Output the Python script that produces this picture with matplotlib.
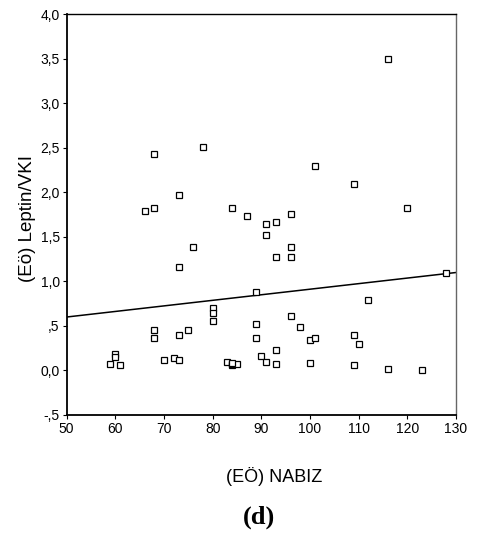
import matplotlib
matplotlib.use("Agg")
import matplotlib.pyplot as plt

# (EO) NABIZ vs (Eo) Leptin/VKI
nabiz = [116, 68, 78,
         101, 109, 73, 66, 68, 84, 87, 91, 93, 96, 91, 76, 96, 93, 96, 73, 128, 120,
         89, 112, 80, 80, 80, 96, 98, 89, 68, 68, 73, 75, 89, 100, 101, 109, 110,
         60, 60, 59, 61, 70, 72, 73, 83, 84, 84, 85, 84, 90, 91, 93, 93, 100, 109,
         116, 123]
leptin = [3.50, 2.43, 2.51,
          2.30, 2.10, 1.97, 1.79, 1.83, 1.83, 1.73, 1.65, 1.67, 1.76, 1.52, 1.39,
          1.39, 1.27, 1.27, 1.16, 1.09, 1.83,
          0.88, 0.79, 0.70, 0.65, 0.55, 0.61, 0.49, 0.52, 0.45, 0.36, 0.40, 0.45,
          0.36, 0.34, 0.36, 0.40, 0.30,
          0.18, 0.15, 0.07, 0.06, 0.12, 0.14, 0.12, 0.09, 0.06, 0.07, 0.07, 0.08,
          0.16, 0.10, 0.23, 0.07, 0.08, 0.06, 0.02, 0.01]

# fit line ends
fit_x = [50, 130]
fit_y = [0.60, 1.10]

xticks = [50, 60, 70, 80, 90, 100, 110, 120, 130]
yticks = [-0.5, 0.0, 0.5, 1.0, 1.5, 2.0, 2.5, 3.0, 3.5, 4.0]
ytick_labels = ["-,5", "0,0", ",5", "1,0", "1,5", "2,0", "2,5", "3,0", "3,5", "4,0"]

plt.rcParams['font.family'] = ['Liberation Sans', 'DejaVu Sans']

fig = plt.figure(figsize=(4.83, 5.34), dpi=100)
ax = fig.add_axes([0.138, 0.223, 0.806, 0.750])

ax.plot(fit_x, fit_y, color='black', lw=1.1, zorder=2)
ax.plot(nabiz, leptin, ls='none', marker='s', ms=4, mfc='white',
        mec='black', mew=0.9, zorder=3)

ax.set_xlim(50, 130)
ax.set_ylim(-0.5, 4.0)
ax.set_xticks(xticks)
ax.set_yticks(yticks)
ax.set_yticklabels(ytick_labels)
ax.tick_params(direction='out', length=3, width=0.8, labelsize=10, pad=2)

for s in ['left', 'bottom']:
    ax.spines[s].set_linewidth(1.3)
ax.spines['top'].set_linewidth(1.0)
ax.spines['right'].set_linewidth(1.0)
ax.spines['right'].set_color('#666666')

fig.text(27 / 483, 1 - 218 / 534, "(Eö) Leptin/VKI", fontsize=13.5,
         rotation=90, ha='center', va='center')
fig.text(274 / 483, 1 - 477 / 534, "(EÖ) NABIZ", fontsize=13,
         ha='center', va='center')
fig.text(259 / 483, 1 - 517 / 534, "(d)", fontsize=19, fontweight='bold',
         family=['Liberation Serif', 'DejaVu Serif'], ha='center', va='center')

fig.savefig("out.png", dpi=100)
